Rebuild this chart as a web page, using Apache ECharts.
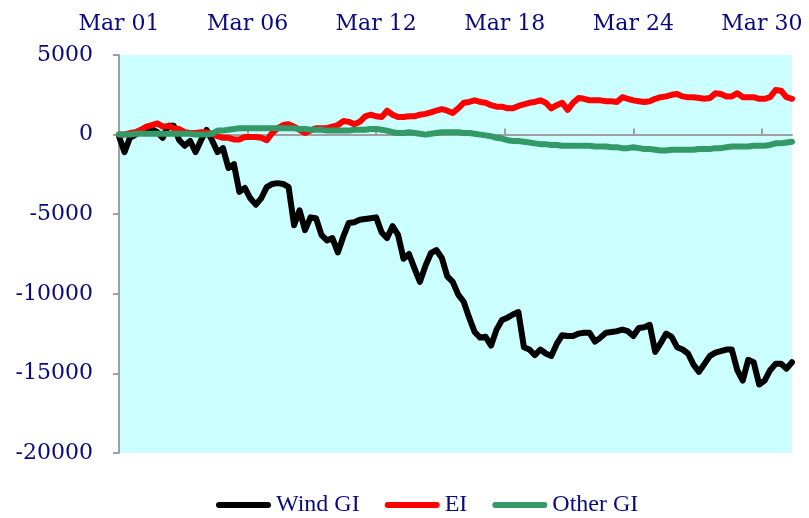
<!DOCTYPE html>
<html>
<head>
<meta charset="utf-8">
<script src="https://cdn.jsdelivr.net/npm/echarts@6/dist/echarts.min.js"></script>
<style>html,body{margin:0;padding:0;background:#fff}#c{width:809px;height:518px}</style>
</head>
<body>
<div id="c"></div>
<script>
// x: hours since Mar 01 00:00, one sample every 6 hours
var stepHours = 6;
var tickHours = [0, 141, 282, 423, 564, 705];
var tickLabels = ['Mar 01', 'Mar 06', 'Mar 12', 'Mar 18', 'Mar 24', 'Mar 30'];
var yTicks = [-20000, -15000, -10000, -5000, 0, 5000];

var windGI = [
  -100, -1100, -200, 0, 250, 400, 350, 150, -200, 550,
  550, -350, -700, -400, -1100, -350, 300, -350, -1100, -850,
  -2100, -1850, -3600, -3350, -4000, -4400, -4000, -3300, -3100, -3050,
  -3100, -3300, -5700, -4750, -6000, -5200, -5250, -6300, -6650, -6500,
  -7400, -6400, -5550, -5500, -5350, -5300, -5250, -5200, -6150, -6500,
  -5750, -6300, -7800, -7500, -8400, -9250, -8250, -7450, -7250, -7750,
  -8900, -9250, -10050, -10500, -11500, -12400, -12750, -12700, -13250, -12250,
  -11650, -11500, -11300, -11150, -13350, -13500, -13850, -13500, -13750, -13900,
  -13150, -12600, -12650, -12650, -12500, -12450, -12450, -13000, -12750, -12450,
  -12400, -12350, -12250, -12350, -12650, -12150, -12100, -11950, -13650, -13100,
  -12500, -12700, -13350, -13500, -13750, -14450, -14900, -14400, -13900, -13700,
  -13600, -13500, -13500, -14800, -15450, -14150, -14300, -15700, -15450, -14800,
  -14400, -14400, -14700, -14300
];
var EI = [
  0, 0, 100, 150, 300, 500, 600, 700, 500, 550,
  400, 350, 150, 100, 100, 150, 150, 50, -100, -200,
  -200, -300, -300, -150, -150, -150, -200, -350, 100, 400,
  600, 650, 500, 300, 100, 250, 400, 400, 400, 500,
  600, 850, 800, 650, 800, 1150, 1250, 1150, 1100, 1500,
  1250, 1100, 1100, 1150, 1150, 1250, 1300, 1400, 1500, 1600,
  1500, 1350, 1650, 2000, 2050, 2150, 2050, 2000, 1850, 1750,
  1750, 1650, 1650, 1800, 1900, 2000, 2050, 2150, 2000, 1650,
  1850, 2000, 1550, 2000, 2300, 2250, 2150, 2150, 2150, 2100,
  2100, 2050, 2350, 2250, 2150, 2100, 2050, 2100, 2250, 2350,
  2400, 2500, 2550, 2400, 2350, 2350, 2300, 2250, 2300, 2600,
  2550, 2400, 2400, 2600, 2350, 2350, 2350, 2250, 2250, 2350,
  2800, 2750, 2350, 2250
];
var otherGI = [
  0, 0, 0, 50, 50, 50, 50, 50, 50, 50,
  50, 50, 50, 50, 0, 0, 0, 50, 250, 250,
  300, 350, 400, 400, 400, 400, 400, 400, 400, 400,
  400, 400, 400, 350, 350, 300, 300, 300, 250, 250,
  250, 250, 250, 300, 300, 300, 350, 350, 300, 250,
  150, 100, 100, 150, 100, 50, 0, 50, 100, 150,
  150, 150, 150, 100, 100, 50, 0, -50, -100, -200,
  -250, -350, -400, -400, -450, -500, -550, -600, -600, -650,
  -650, -700, -700, -700, -700, -700, -700, -750, -750, -750,
  -800, -800, -850, -850, -800, -850, -900, -900, -950, -1000,
  -1000, -950, -950, -950, -950, -950, -900, -900, -900, -850,
  -850, -800, -750, -750, -750, -750, -700, -700, -700, -650,
  -550, -550, -500, -450
];

function pairs(arr) {
  return arr.map(function (v, i) { return [i * stepHours, v]; });
}

var textColor = '#0A0A80';
var fontFam = 'DejaVu Serif';
var axisGray = '#A0A0A0';
var lastHour = (windGI.length - 1) * stepHours;

var chart = echarts.init(document.getElementById('c'), null, { renderer: 'canvas' });
chart.setOption({
  animation: false,
  backgroundColor: '#ffffff',
  grid: {
    left: 119, right: 17, top: 55, bottom: 65,
    show: true, backgroundColor: '#CCFFFF', borderWidth: 0
  },
  legend: {
    left: 211, top: 488,
    itemWidth: 55, itemHeight: 6, itemGap: 25,
    icon: 'path://M3,0 L52,0 A3,3 0 0 1 52,6 L3,6 A3,3 0 0 1 3,0 Z',
    textStyle: { color: textColor, fontFamily: 'Liberation Serif', fontSize: 24 },
    data: ['Wind GI', 'EI', 'Other GI']
  },
  xAxis: {
    type: 'value', position: 'top',
    min: 0, max: lastHour,
    splitLine: { show: false },
    axisLine: { show: true, lineStyle: { color: axisGray, width: 2 } },
    axisTick: { show: true, inside: false, length: 6, customValues: tickHours, lineStyle: { color: axisGray, width: 2 } },
    axisLabel: {
      customValues: tickHours,
      margin: 20,
      color: textColor, fontFamily: fontFam, fontSize: 22,
      formatter: function (v) { var k = tickHours.indexOf(v); return k >= 0 ? tickLabels[k] : ''; }
    }
  },
  yAxis: {
    type: 'value',
    min: yTicks[0], max: yTicks[yTicks.length - 1], interval: 5000,
    splitLine: { show: false },
    axisLine: { show: true, lineStyle: { color: axisGray, width: 2 } },
    axisTick: { show: true, inside: false, length: 6, lineStyle: { color: axisGray, width: 2 } },
    axisLabel: { margin: 26, color: textColor, fontFamily: fontFam, fontSize: 22,
      formatter: function (v) { return String(v); } }
  },
  series: [
    { name: 'Wind GI', type: 'line', data: pairs(windGI), showSymbol: false, symbol: 'none',
      itemStyle: { color: '#000000' },
      lineStyle: { color: '#000000', width: 6, cap: 'round', join: 'round' } },
    { name: 'EI', type: 'line', data: pairs(EI), showSymbol: false, symbol: 'none',
      itemStyle: { color: '#FF0000' },
      lineStyle: { color: '#FF0000', width: 6, cap: 'round', join: 'round' } },
    { name: 'Other GI', type: 'line', data: pairs(otherGI), showSymbol: false, symbol: 'none',
      itemStyle: { color: '#339966' },
      lineStyle: { color: '#339966', width: 6, cap: 'round', join: 'round' } }
  ]
});
</script>
</body>
</html>
